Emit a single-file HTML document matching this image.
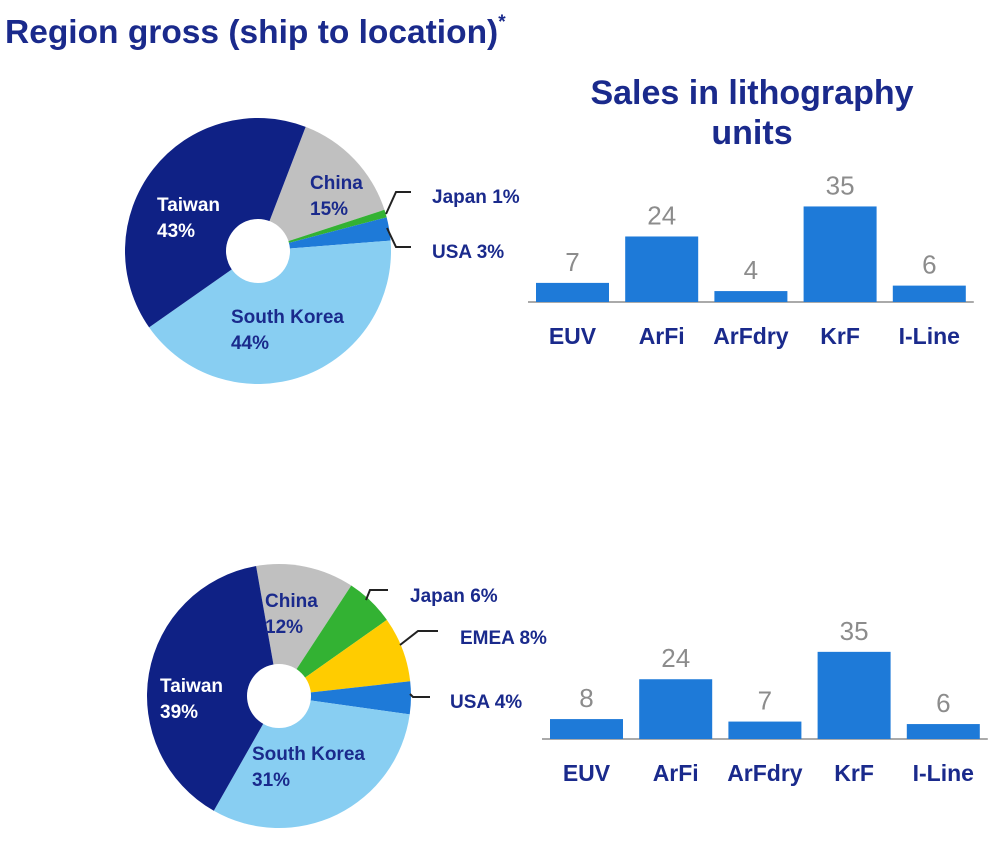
<!DOCTYPE html>
<html><head><meta charset="utf-8"><style>
body{margin:0;background:#fff;width:1000px;height:854px;overflow:hidden;font-family:"Liberation Sans",Arial,sans-serif}
</style></head><body>
<svg id="svg" width="1000" height="854" xmlns="http://www.w3.org/2000/svg" font-family="Liberation Sans, Arial, sans-serif">
<text x="5" y="43" font-size="33.5" font-weight="bold" fill="#1a2a8c">Region gross (ship to location)<tspan font-size="19" dy="-15">*</tspan></text>
<text x="752" y="104" font-size="34" font-weight="bold" fill="#1a2a8c" text-anchor="middle">Sales in lithography</text>
<text x="752" y="144" font-size="34" font-weight="bold" fill="#1a2a8c" text-anchor="middle">units</text>
<g id="g"></g>
</svg>
<script>
const pie1Labels=["China","Japan","USA","South Korea","Taiwan"];
const pie1Values=[15,1,3,44,43];
const pie1Colors=["#c0c0c0","#33b233","#1e7ad8","#88cef2","#0f2185"];
const pie2Labels=["China","Japan","EMEA","USA","South Korea","Taiwan"];
const pie2Values=[12,6,8,4,31,39];
const pie2Colors=["#c0c0c0","#33b233","#ffcc00","#1e7ad8","#88cef2","#0f2185"];
const barCategories=["EUV","ArFi","ArFdry","KrF","I-Line"];
const bar1Values=[7,24,4,35,6];
const bar2Values=[8,24,7,35,6];

const NS="http://www.w3.org/2000/svg";
const g=document.getElementById('g');
function mk(t,a){const e=document.createElementNS(NS,t);for(const k in a)e.setAttribute(k,a[k]);g.appendChild(e);return e;}
function pie(cx,cy,r,hole,startDeg,labels,vals,cols,name){
  const tot=vals.reduce((a,b)=>a+b,0);let a=startDeg;
  vals.forEach((v,i)=>{
    const s=a,e=a+v/tot*360;a=e;
    const p=d=>{const rad=(d-90)*Math.PI/180;return [cx+r*Math.cos(rad),cy+r*Math.sin(rad)];};
    const [x1,y1]=p(s),[x2,y2]=p(e);
    const path=mk('path',{d:`M${cx},${cy}L${x1},${y1}A${r},${r} 0 ${e-s>180?1:0} 1 ${x2},${y2}Z`,fill:cols[i]});
    
    
  });
  const h=mk('circle',{cx:cx,cy:cy,r:hole,fill:'#fff'});
  
  
}
function txt(x,y,s,opt){const t=mk('text',Object.assign({x:x,y:y,'font-size':19,'font-weight':'bold',fill:'#1a2a8c'},opt||{}));t.textContent=s;return t;}
function label(x,y,lines,color,name){lines.forEach((l,i)=>{const t=txt(x,y+i*26,l,{fill:color});});}
function leader(d,name){const l=mk('path',{d:d,fill:'none',stroke:'#222','stroke-width':2});}

pie(258,251,133,32,21,pie1Labels,pie1Values,pie1Colors,'pie-top');
label(157,211,["Taiwan","43%"],"#fff","pie-top-label-taiwan");
label(310,189,["China","15%"],"#1a2a8c","pie-top-label-china");
label(231,323,["South Korea","44%"],"#1a2a8c","pie-top-label-south-korea");
leader("M411,192 L396,192 L386,214","leader-top-japan");
leader("M411,247 L396,247 L387,228","leader-top-usa");
label(432,203,["Japan 1%"],"#1a2a8c","pie-top-label-japan");
label(432,258,["USA 3%"],"#1a2a8c","pie-top-label-usa");

pie(279,696,132,32,-10,pie2Labels,pie2Values,pie2Colors,'pie-bottom');
label(160,692,["Taiwan","39%"],"#fff","pie-bottom-label-taiwan");
label(265,607,["China","12%"],"#1a2a8c","pie-bottom-label-china");
label(252,760,["South Korea","31%"],"#1a2a8c","pie-bottom-label-south-korea");
leader("M388,590 L370,590 L366,600","leader-bottom-japan");
leader("M438,631 L418,631 L400,645","leader-bottom-emea");
leader("M430,697 L413,697 L410,694","leader-bottom-usa");
label(410,602,["Japan 6%"],"#1a2a8c","pie-bottom-label-japan");
label(460,644,["EMEA 8%"],"#1a2a8c","pie-bottom-label-emea");
label(450,708,["USA 4%"],"#1a2a8c","pie-bottom-label-usa");

function bars(x0,base,step,bw,scale,vals,catY,name){
  const ax=mk('line',{x1:x0-8,y1:base,x2:x0+4*step+bw+8,y2:base,stroke:'#aaa','stroke-width':2});
  
  
  vals.forEach((v,i)=>{
    const x=x0+i*step,h=v*scale;
    const r=mk('rect',{x:x,y:base-h,width:bw,height:h,fill:'#1e7ad8'});
    
    
    const vt=txt(x+bw/2,base-h-12,String(v),{'font-size':26,'font-weight':'normal',fill:'#8c8c8c','text-anchor':'middle'});
    
    
    const ct=txt(x+bw/2,catY,barCategories[i],{'font-size':23,'text-anchor':'middle'});
    
    
  });
}
bars(536,302,89.2,73,2.73,bar1Values,344,'bar-top');
bars(550,739,89.2,73,2.49,bar2Values,781,'bar-bottom');
</script>
</body></html>
